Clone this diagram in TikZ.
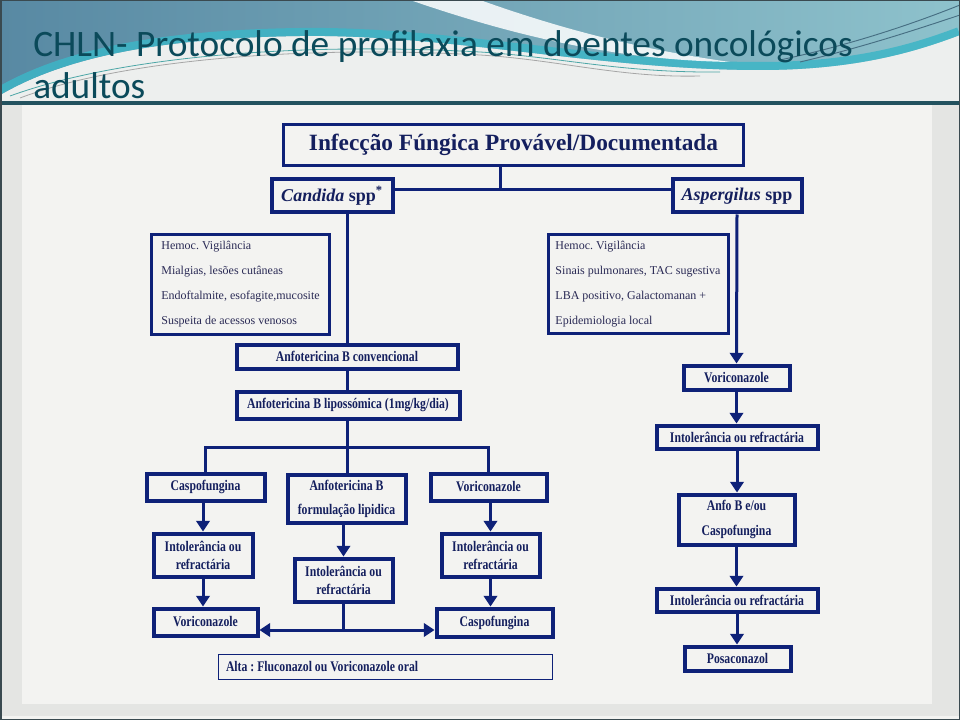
\documentclass[tikz,border=0pt]{standalone}
\usepackage{fontspec}
\setmainfont{Liberation Serif}
\newfontfamily\cond[FakeStretch=0.8]{Liberation Serif}
\newfontfamily\ttlfont{Carlito}
\usetikzlibrary{arrows.meta,calc}
\definecolor{navy}{HTML}{0E2178}
\definecolor{navytext}{HTML}{141F5E}
\definecolor{crittext}{HTML}{2A2A55}
\definecolor{bgc}{HTML}{F3F3F1}
\definecolor{edgec}{HTML}{E4E5E3}
\definecolor{hdrlight}{HTML}{EDEFEE}
\definecolor{hbA}{HTML}{5889A3}
\definecolor{hbB}{HTML}{8EC2CC}
\definecolor{cyanc}{HTML}{3DB5C6}
\definecolor{rulec}{HTML}{23525F}
\definecolor{ttl}{HTML}{0B4A5A}
\definecolor{framec}{HTML}{3A4A50}
\begin{document}
\frenchspacing
\begin{tikzpicture}[x=0.75pt,y=-0.75pt,
  box/.style={draw=navy, line width=3pt, text=navytext, inner sep=0pt, align=center,
    font=\cond\bfseries\fontsize{11}{13.5}\selectfont},
  crit/.style={draw=navy, line width=2.25pt, text=crittext, inner sep=0pt, align=left,
    font=\fontsize{9}{18.75}\selectfont},
  sz/.style 2 args={minimum width=#1*0.75pt, minimum height=#2*0.75pt},
  conn/.style={draw=navy, line width=2.25pt},
  arr/.style={conn, -{Triangle[length=8pt,width=10pt]}},
]
\useasboundingbox (0,0) rectangle (960,720);
% ---------- background ----------
\fill[bgc] (0,0) rectangle (960,720);
\fill[edgec] (0,104) rectangle (22,716);
\fill[edgec] (932,104) rectangle (960,716);
\fill[edgec] (0,704) rectangle (960,716);
% ---------- header ----------
\begin{scope}
\clip (0,0) rectangle (960,102);
\fill[hdrlight] (0,0) rectangle (960,102);
\path[left color=hbA, right color=hbB]
  (0,0) -- (960,0) -- (960,35) .. controls (920,50) and (860,70) .. (760,70)
  .. controls (600,70) and (450,34) .. (300,36)
  .. controls (150,38) and (60,60) .. (0,95) -- cycle;
\begin{scope}
\clip (0,0) -- (960,0) -- (960,35) .. controls (920,50) and (860,70) .. (760,70)
  .. controls (600,70) and (450,34) .. (300,36)
  .. controls (150,38) and (60,60) .. (0,95) -- cycle;
\draw[cyanc, line width=12pt, opacity=0.85]
  (960,35) .. controls (920,50) and (860,70) .. (760,70)
  .. controls (600,70) and (450,34) .. (300,36)
  .. controls (150,38) and (60,60) .. (0,95);
\fill[white, opacity=0.85] (410,0) -- (480,0) .. controls (550,25) and (630,48) .. (730,62)
  .. controls (620,60) and (520,38) .. (410,0) -- cycle;
\end{scope}
\draw[gray!70, line width=0.6pt] (20,98) .. controls (120,60) and (300,45) .. (480,55)
  .. controls (560,60) and (620,78) .. (700,76);
\draw[teal!70, line width=0.6pt] (10,96) .. controls (120,56) and (300,42) .. (480,52)
  .. controls (560,57) and (620,73) .. (720,72);
\draw[hbA!80!black, line width=0.7pt] (780,60) .. controls (850,45) and (910,25) .. (960,5);
\draw[hbA!80!black, line width=0.7pt] (800,62) .. controls (860,48) and (915,30) .. (960,15);
\end{scope}
\draw[rulec, line width=2.4pt] (0,103) -- (960,103);
\draw[framec, line width=1.5pt] (0.5,0.5) rectangle (959.5,719.5);
\node[anchor=base west, inner sep=0pt, text=ttl, font=\ttlfont\fontsize{28}{32}\selectfont]
  (t1) at (33,57) {CHLN- Protocolo de profilaxia em doentes oncológicos};
\node[anchor=base west, inner sep=0pt, text=ttl, font=\ttlfont\fontsize{28}{32}\selectfont]
  (t2) at (33,99) {adultos};
% ---------- diagram nodes ----------
\node[box, line width=2.25pt, sz={460}{41}, font=\bfseries\fontsize{17.5}{20}\selectfont]
  (top) at (513.5,145) {Infecção Fúngica Provável/Documentada};
\node[box, sz={121}{33}, font=\bfseries\fontsize{13.5}{16}\selectfont]
  (cand) at (332,196) {\textit{Candida} spp\textsuperscript{*}};
\node[box, sz={129}{33}, font=\bfseries\fontsize{13.5}{16}\selectfont]
  (asp) at (737,196) {\textit{Aspergilus} spp};
\node[crit, sz={178}{100}] (critL) at (240.5,284.5)
  {Hemoc. Vigilância\\Mialgias, lesões cutâneas\\Endoftalmite, esofagite,mucosite\\Suspeita de acessos venosos};
\node[crit, sz={180}{99}] (critR) at (638,284)
  {Hemoc. Vigilância\\Sinais pulmonares, TAC sugestiva\\LBA positivo, Galactomanan +\\Epidemiologia local};
\node[box, sz={221}{24}] (aconv) at (347,356.5) {Anfotericina B convencional};
\node[box, sz={223}{27}] (alipo) at (348,405) {Anfotericina B lipossómica (1mg/kg/dia)};
\node[box, sz={118}{27}] (caspoA) at (205.5,487) {Caspofungina};
\node[box, sz={118}{48}, font=\cond\bfseries\fontsize{11}{18}\selectfont] (aform) at (346.5,499)
  {Anfotericina B\\formulação lipidica};
\node[box, sz={116}{27}] (voriA) at (488.5,487) {Voriconazole};
\node[box, sz={99}{43}] (intA) at (203,555) {Intolerância ou\\refractária};
\node[box, sz={98}{43}] (intB) at (343.5,580) {Intolerância ou\\refractária};
\node[box, sz={98}{43}] (intC) at (490.5,555) {Intolerância ou\\refractária};
\node[box, sz={104}{27}] (voriB) at (205.5,622) {Voriconazole};
\node[box, sz={116}{28}] (caspoB) at (494.5,622.5) {Caspofungina};
\node[box, line width=1.1pt, sz={334}{25}] (alta) at (385.5,667)
  {\makebox[239.25pt][l]{Alta : Fluconazol ou Voriconazole oral}};
\node[box, sz={106}{24}] (voriR) at (736.5,377.5) {Voriconazole};
\node[box, sz={161}{23}] (intR1) at (737,437) {Intolerância ou refractária};
\node[box, sz={116}{50}, font=\cond\bfseries\fontsize{11}{18.75}\selectfont] (anfoB) at (736.5,519.5)
  {Anfo B e/ou\\Caspofungina};
\node[box, sz={161}{23}] (intR2) at (737,600) {Intolerância ou refractária};
\node[box, sz={106}{24}] (posa) at (737.5,658.5) {Posaconazol};
% ---------- connectors ----------
\coordinate (j) at (500,190);
\draw[conn] (top.south -| j) -- (j);
\draw[conn] (cand.east |- j) -- (asp.west |- j);
\draw[conn] (aconv.north |- cand.south) -- (aconv.north);
\draw[arr] (asp.south) -- (voriR.north);
\draw[conn] (aconv.south) -- (aconv.south |- alipo.north);
\coordinate (s) at (347,447);
\draw[conn] (alipo.south -| s) -- (s);
\draw[conn] (caspoA.north) |- (s) -| (voriA.north);
\draw[conn] (s) -- (aform.north -| s);
\draw[arr] (caspoA.south -| intA.north) -- (intA.north);
\draw[arr] (intA.south) -- (intA.south |- voriB.north);
\draw[arr] (aform.south -| intB.north) -- (intB.north);
\draw[arr] (voriA.south -| intC.north) -- (intC.north);
\draw[arr] (intC.south) -- (intC.south |- caspoB.north);
\coordinate (m) at (343.5,630);
\draw[conn] (intB.south) -- (m);
\draw[arr] (m) -- (voriB.east |- m);
\draw[arr] (m) -- (caspoB.west |- m);
\draw[arr] (voriR.south) -- (voriR.south |- intR1.north);
\draw[arr] (intR1.south) -- (intR1.south |- anfoB.north);
\draw[arr] (anfoB.south) -- (anfoB.south |- intR2.north);
\draw[arr] (intR2.south) -- (intR2.south |- posa.north);
\end{tikzpicture}
\end{document}
